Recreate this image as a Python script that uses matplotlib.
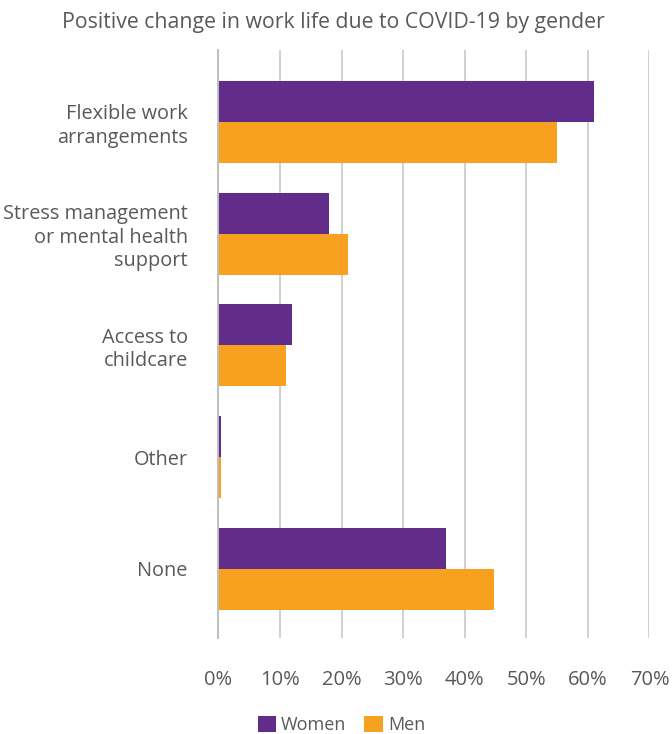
import matplotlib
matplotlib.use("Agg")
import matplotlib.pyplot as plt
import numpy as np
from matplotlib.ticker import FuncFormatter, MultipleLocator
from matplotlib.patches import Patch

plt.rcParams['font.family'] = ['Open Sans', 'DejaVu Sans']

categories = ["Flexible work\narrangements",
              "Stress management\nor mental health\nsupport",
              "Access to\nchildcare",
              "Other",
              "None"]
women = [61, 18, 12, 0.5, 37]
men = [55, 21, 11, 0.5, 44.7]
series_names = ["Women", "Men"]
colors = ["#612C8A", "#F8A01F"]
title = "Positive change in work life due to COVID-19 by gender"

fig = plt.figure(figsize=(6.72, 7.34), dpi=100)
ax = fig.add_axes([0.325, 0.131, 0.6415, 0.801])

y = np.arange(len(categories))
h = 0.367
ax.barh(y - h / 2, women, height=h, color=colors[0], zorder=3, label=series_names[0])
ax.barh(y + h / 2, men, height=h, color=colors[1], zorder=3, label=series_names[1])

ax.set_xlim(0, 70)
ax.set_ylim(4.617, -0.644)
ax.xaxis.set_major_locator(MultipleLocator(10))
ax.xaxis.set_major_formatter(FuncFormatter(lambda v, p: f"{int(round(v))}%"))
ax.set_yticks(y)
ax.set_yticklabels(categories, ha='right', linespacing=1.22)

ax.grid(axis='x', color='#D0D0D0', linewidth=1.4, zorder=0)
ax.set_axisbelow(True)
for s in ['top', 'right', 'bottom']:
    ax.spines[s].set_visible(False)
ax.spines['left'].set_color('#BFBFBF')
ax.spines['left'].set_linewidth(1.4)
ax.spines['left'].set_zorder(4)

ax.tick_params(axis='x', length=0, pad=23, labelsize=14.5, labelcolor='#595959')
ax.tick_params(axis='y', length=0, pad=22, labelsize=14.3, labelcolor='#595959')

fig.text(0.496, 0.969, title, ha='center', va='center', fontsize=15.3, color='#595959')

handles = [Patch(facecolor=c, label=n) for c, n in zip(colors, series_names)]
leg = fig.legend(handles=handles, loc='center', bbox_to_anchor=(0.508, 0.012),
                 ncol=2, frameon=False, fontsize=13, handlelength=1.0, handleheight=1.0,
                 handletextpad=0.3, columnspacing=1.0, labelcolor='#595959')

fig.savefig("out.png", dpi=100)
